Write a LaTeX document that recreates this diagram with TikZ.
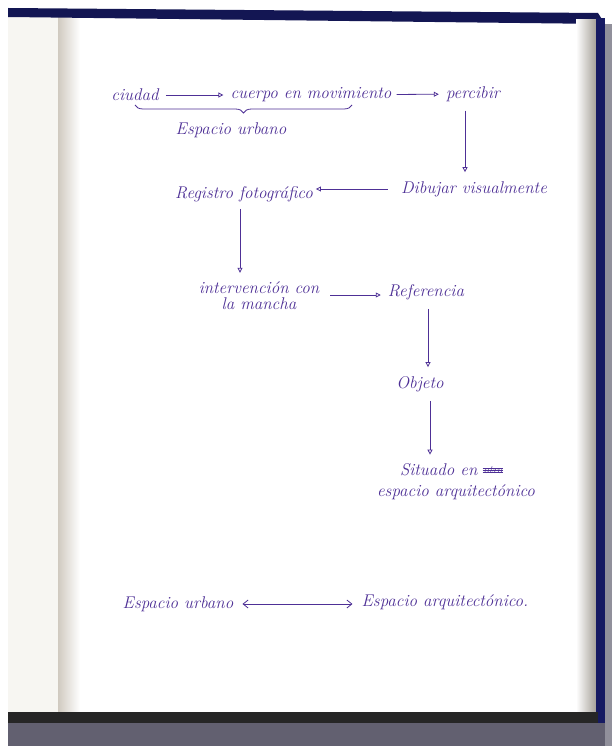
\documentclass[tikz,border=0pt]{standalone}
\usetikzlibrary{arrows.meta,positioning}
\usetikzlibrary{decorations.pathreplacing}
\definecolor{ink}{RGB}{78,48,150}
\definecolor{navy}{RGB}{22,26,98}
\definecolor{cover}{RGB}{98,96,112}
\definecolor{spine}{RGB}{208,202,192}
\definecolor{leaf}{RGB}{247,246,242}

\tikzset{
  word/.style={ink,font=\fontsize{17}{20}\selectfont\itshape,inner sep=1pt},
  twoline/.style={word,align=center},
  flow/.style={ink,line width=0.8pt,-{Triangle[open,length=5pt,width=5pt]}},
  both/.style={ink,line width=0.8pt,{Straight Barb[length=5pt,width=8pt]}-{Straight Barb[length=5pt,width=8pt]}},
}

\begin{document}
\begin{tikzpicture}[x=1pt,y=-1pt]
\useasboundingbox (0,0) rectangle (612,746);

    % notebook page
    \fill[white] (0,0) rectangle (612,746);
    \fill[leaf] (8,12) rectangle (60,712);
    \shade[left color=spine,right color=white] (58,12) rectangle (80,712);
    \fill[navy!85!black] (8,8) -- (598,13) -- (605,24) -- (8,17) -- cycle;
    \shade[left color=white,right color=spine!80!black] (576,20) rectangle (596,720);
    \fill[navy] (596,18) rectangle (605,724);
    \fill[cover!70] (605,24) rectangle (612,746);
    \fill[black!85] (8,712) rectangle (598,723);
    \fill[cover] (8,723) rectangle (605,746);

    % words
    \node[word] (ciudad) at (135,95) {ciudad};
    \node[word] (cuerpo) at (311,95) {cuerpo en movimiento};
    \node[word] (percibir) at (473,94) {percibir};
    \node[word] (urbano1) at (231,130) {Espacio urbano};
    \node[word] (dibujar) at (474,189) {Dibujar visualmente};
    \node[word] (registro) at (244,194) {Registro fotográfico};
    \node[twoline] (mancha) at (259,296) {intervención con\\[-4pt]la mancha};
    \node[word] (referencia) at (426,292) {Referencia};
    \node[word] (objeto) at (420,384) {Objeto};
    \node[twoline] (situado) at (456,482) {Situado en \phantom{otro}\\[1pt]espacio arquitectónico};
    \node[word] (urbano2) at (178,604) {Espacio urbano};
    \node[word] (arqui) at (445,602) {Espacio arquitectónico.};

    % crossed out word
    \node[word,font=\fontsize{11}{12}\selectfont\itshape] (tachado) at (493,470) {otro};
    \foreach \d in {-2,0,2} \draw[ink,line width=0.9pt] ([yshift=\d pt]tachado.west) -- ([yshift=\d pt]tachado.east);

    % brace
    \coordinate (braceL) at (135,105);
    \coordinate (braceR) at (352,105);
    \draw[ink,line width=0.8pt,decorate,decoration={brace,mirror,amplitude=8pt}] (braceL) -- (braceR);

    % connectors
    \draw[flow,shorten <=6pt,shorten >=6pt] (ciudad) -- (cuerpo);
    \draw[flow,shorten <=4pt,shorten >=6pt] (cuerpo) -- (percibir);
    \draw[flow,shorten <=8pt,shorten >=8pt] ([xshift=-8pt]percibir.south) -- ([xshift=-9pt]dibujar.north);
    \draw[flow,shorten <=12pt,shorten >=2pt] (dibujar.west) -- (dibujar.west -| registro.east);
    \draw[flow,shorten <=6pt,shorten >=8pt] ([xshift=-4pt]registro.south) -- ([xshift=-19pt]mancha.north);
    \draw[flow,shorten <=10pt,shorten >=6pt] ([yshift=-3pt]referencia.west -| mancha.east) -- ([yshift=-3pt]referencia.west);
    \draw[flow,shorten <=8pt,shorten >=8pt] ([xshift=2pt]referencia.south) -- ([xshift=8pt]objeto.north);
    \draw[flow,shorten <=8pt,shorten >=8pt] ([xshift=10pt]objeto.south) -- ([xshift=-26pt]situado.north);
    \draw[both,shorten <=8pt,shorten >=8pt] (urbano2.east) -- (urbano2.east -| arqui.west);
\end{tikzpicture}
\end{document}
